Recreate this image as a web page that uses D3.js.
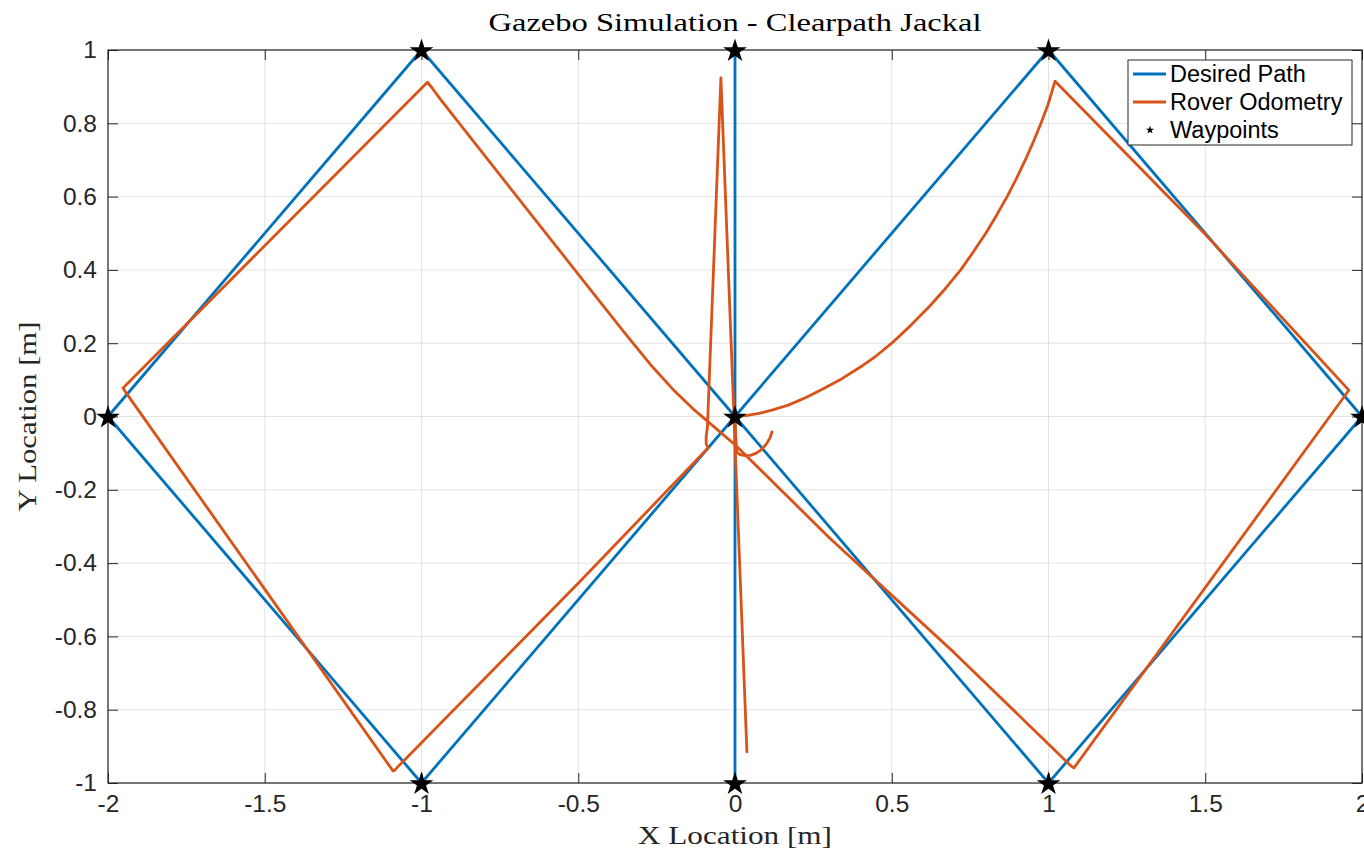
<!DOCTYPE html>
<html>
<head>
<meta charset="utf-8">
<script src="https://cdn.jsdelivr.net/npm/d3@7"></script>
<style>
  html, body { margin: 0; padding: 0; background: #fff; }
  svg { display: block; }
</style>
</head>
<body>
<svg id="chart" width="1364" height="852"></svg>
<script>
// Planned route through the waypoints
const desiredX = [0, 1, 2, 1, 0, -1, -2, -1, 0, 0, 0];
const desiredY = [0, 1, 0, -1, 0, 1, 0, -1, 0, 1, -1];

// Waypoints visited by the rover
const waypointX = [0, 1, 2, 1, -1, -2, -1, 0, 0];
const waypointY = [0, 1, 0, -1, 1, 0, -1, 1, -1];

// Rover odometry trace (x, y in metres)
const odomX = [0.118, 0.112, 0.1, 0.085, 0.068, 0.05, 0.032, 0.016, 0.006, 0.002, 0.0,
  0.04, 0.08, 0.12, 0.17, 0.23, 0.28, 0.335, 0.4, 0.45, 0.5, 0.56, 0.62, 0.67, 0.72,
  0.761, 0.8, 0.835, 0.868, 0.898, 0.926, 0.952, 0.976, 0.998, 1.021,
  1.5, 1.958, 1.95,
  1.081, 1.07,
  0.7, 0.3, 0.0, -0.06, -0.13, -0.2, -0.27, -0.35, -0.45, -0.9, -0.94, -0.965, -0.981,
  -1.952, -1.945,
  -1.091, -1.085, -1.078,
  -0.5, -0.086, -0.092, -0.092, -0.088,
  -0.045, 0.038];
const odomY = [-0.042, -0.058, -0.075, -0.09, -0.1, -0.106, -0.107, -0.104, -0.098, -0.05, 0.0,
  0.003, 0.009, 0.018, 0.031, 0.053, 0.075, 0.1, 0.135, 0.165, 0.2, 0.248, 0.3, 0.348, 0.4,
  0.45, 0.5, 0.55, 0.6, 0.65, 0.7, 0.75, 0.8, 0.85, 0.915,
  0.497, 0.072, 0.062,
  -0.959, -0.952,
  -0.645, -0.33, -0.077, -0.033, 0.018, 0.076, 0.142, 0.226, 0.334, 0.822, 0.866, 0.895, 0.912,
  0.078, 0.068,
  -0.967, -0.965, -0.958,
  -0.455, -0.086, -0.075, -0.055, -0.03,
  0.924, -0.915];

const xTicks = [-2, -1.5, -1, -0.5, 0, 0.5, 1, 1.5, 2];
const xTickLabels = ["-2", "-1.5", "-1", "-0.5", "0", "0.5", "1", "1.5", "2"];
const yTicks = [-1, -0.8, -0.6, -0.4, -0.2, 0, 0.2, 0.4, 0.6, 0.8, 1];
const yTickLabels = ["-1", "-0.8", "-0.6", "-0.4", "-0.2", "0", "0.2", "0.4", "0.6", "0.8", "1"];

const seriesNames = ["Desired Path", "Rover Odometry", "Waypoints"];
const colors = { desired: "#0072BD", odom: "#D95319", axis: "#262626", grid: "#e3e3e3" };

const svg = d3.select("#chart");
const plotL = 108, plotR = 1362, plotT = 50, plotB = 783;

const x = d3.scaleLinear().domain([-2, 2]).range([plotL, plotR]);
const y = d3.scaleLinear().domain([-1, 1]).range([plotB, plotT]);

// grid
const grid = svg.append("g");
grid.selectAll("line.gx").data(xTicks).join("line").attr("class", "gx")
  .attr("x1", d => x(d)).attr("x2", d => x(d))
  .attr("y1", plotT).attr("y2", plotB)
  .attr("stroke", colors.grid).attr("stroke-width", 1);
grid.selectAll("line.gy").data(yTicks).join("line").attr("class", "gy")
  .attr("y1", d => y(d)).attr("y2", d => y(d))
  .attr("x1", plotL).attr("x2", plotR)
  .attr("stroke", colors.grid).attr("stroke-width", 1);

// axes with inward ticks on all four sides
const tickLen = 10;
const font = "'Liberation Sans', Arial, Helvetica, sans-serif";
const xAxis = d3.axisBottom(x).tickValues(xTicks).tickFormat((d, i) => xTickLabels[i])
  .tickSizeInner(-tickLen).tickSizeOuter(0).tickPadding(12);
const yAxis = d3.axisLeft(y).tickValues(yTicks).tickFormat((d, i) => yTickLabels[i])
  .tickSizeInner(-tickLen).tickSizeOuter(0).tickPadding(11);
const xAxisTop = d3.axisTop(x).tickValues(xTicks).tickFormat("")
  .tickSizeInner(-tickLen).tickSizeOuter(0);
const yAxisRight = d3.axisRight(y).tickValues(yTicks).tickFormat("")
  .tickSizeInner(-tickLen).tickSizeOuter(0);

function styleAxis(g) {
  g.select(".domain").remove();
  g.selectAll(".tick line").attr("stroke", colors.axis).attr("stroke-width", 1);
  g.selectAll(".tick text").attr("fill", colors.axis)
    .style("font-family", font).style("font-size", "24.5px");
}
svg.append("g").attr("transform", `translate(0,${plotB})`).call(xAxis).call(styleAxis);
svg.append("g").attr("transform", `translate(${plotL},0)`).call(yAxis).call(styleAxis);
svg.append("g").attr("transform", `translate(0,${plotT})`).call(xAxisTop).call(styleAxis);
svg.append("g").attr("transform", `translate(${plotR},0)`).call(yAxisRight).call(styleAxis);

// data lines
const line = d3.line().x(d => x(d[0])).y(d => y(d[1]));
const desired = desiredX.map((v, i) => [v, desiredY[i]]);
const odom = odomX.map((v, i) => [v, odomY[i]]);

svg.append("path").datum(desired).attr("d", line)
  .attr("fill", "none").attr("stroke", colors.desired).attr("stroke-width", 2.8)
  .attr("stroke-linejoin", "round");
svg.append("path").datum(odom).attr("d", line)
  .attr("fill", "none").attr("stroke", colors.odom).attr("stroke-width", 2.8)
  .attr("stroke-linejoin", "round").attr("stroke-linecap", "round");

// box
svg.append("rect").attr("x", plotL).attr("y", plotT)
  .attr("width", plotR - plotL).attr("height", plotB - plotT)
  .attr("fill", "none").attr("stroke", colors.axis).attr("stroke-width", 1.2);

// waypoints
const star = d3.symbol().type(d3.symbolStar).size(175);
svg.append("g").selectAll("path").data(waypointX.map((v, i) => [v, waypointY[i]])).join("path")
  .attr("transform", d => `translate(${x(d[0])},${y(d[1]) + 1})`)
  .attr("d", star).attr("fill", "#000");

// title and axis labels
const serif = "'Liberation Serif', 'DejaVu Serif', serif";
svg.append("text").attr("x", (plotL + plotR) / 2).attr("y", 31)
  .attr("text-anchor", "middle").attr("fill", "#000")
  .style("font-family", serif).style("font-size", "25px")
  .attr("textLength", 493).attr("lengthAdjust", "spacingAndGlyphs")
  .text("Gazebo Simulation - Clearpath Jackal");
svg.append("text").attr("x", (plotL + plotR) / 2).attr("y", 844)
  .attr("text-anchor", "middle").attr("fill", "#262626")
  .style("font-family", serif).style("font-size", "26px")
  .attr("textLength", 194).attr("lengthAdjust", "spacingAndGlyphs")
  .text("X Location [m]");
svg.append("text").attr("transform", `translate(36,${(plotT + plotB) / 2}) rotate(-90)`)
  .attr("text-anchor", "middle").attr("fill", "#262626")
  .style("font-family", serif).style("font-size", "26px")
  .attr("textLength", 190).attr("lengthAdjust", "spacingAndGlyphs")
  .text("Y Location [m]");

// legend
const lg = svg.append("g").attr("transform", "translate(1128,60)");
lg.append("rect").attr("width", 224).attr("height", 85)
  .attr("fill", "#fff").attr("stroke", colors.axis).attr("stroke-width", 1);
const rowY = [14, 42, 70];
seriesNames.forEach((name, i) => {
  if (i < 2) {
    lg.append("line").attr("x1", 5).attr("x2", 38).attr("y1", rowY[i]).attr("y2", rowY[i])
      .attr("stroke", i === 0 ? colors.desired : colors.odom).attr("stroke-width", 2.8);
  } else {
    lg.append("path").attr("transform", `translate(22,${rowY[i]})`)
      .attr("d", d3.symbol().type(d3.symbolStar).size(22)).attr("fill", "#000");
  }
  lg.append("text").attr("x", 42).attr("y", rowY[i] + 8)
    .attr("fill", "#000").style("font-family", font).style("font-size", "23.5px")
    .text(name);
});
</script>
</body>
</html>
